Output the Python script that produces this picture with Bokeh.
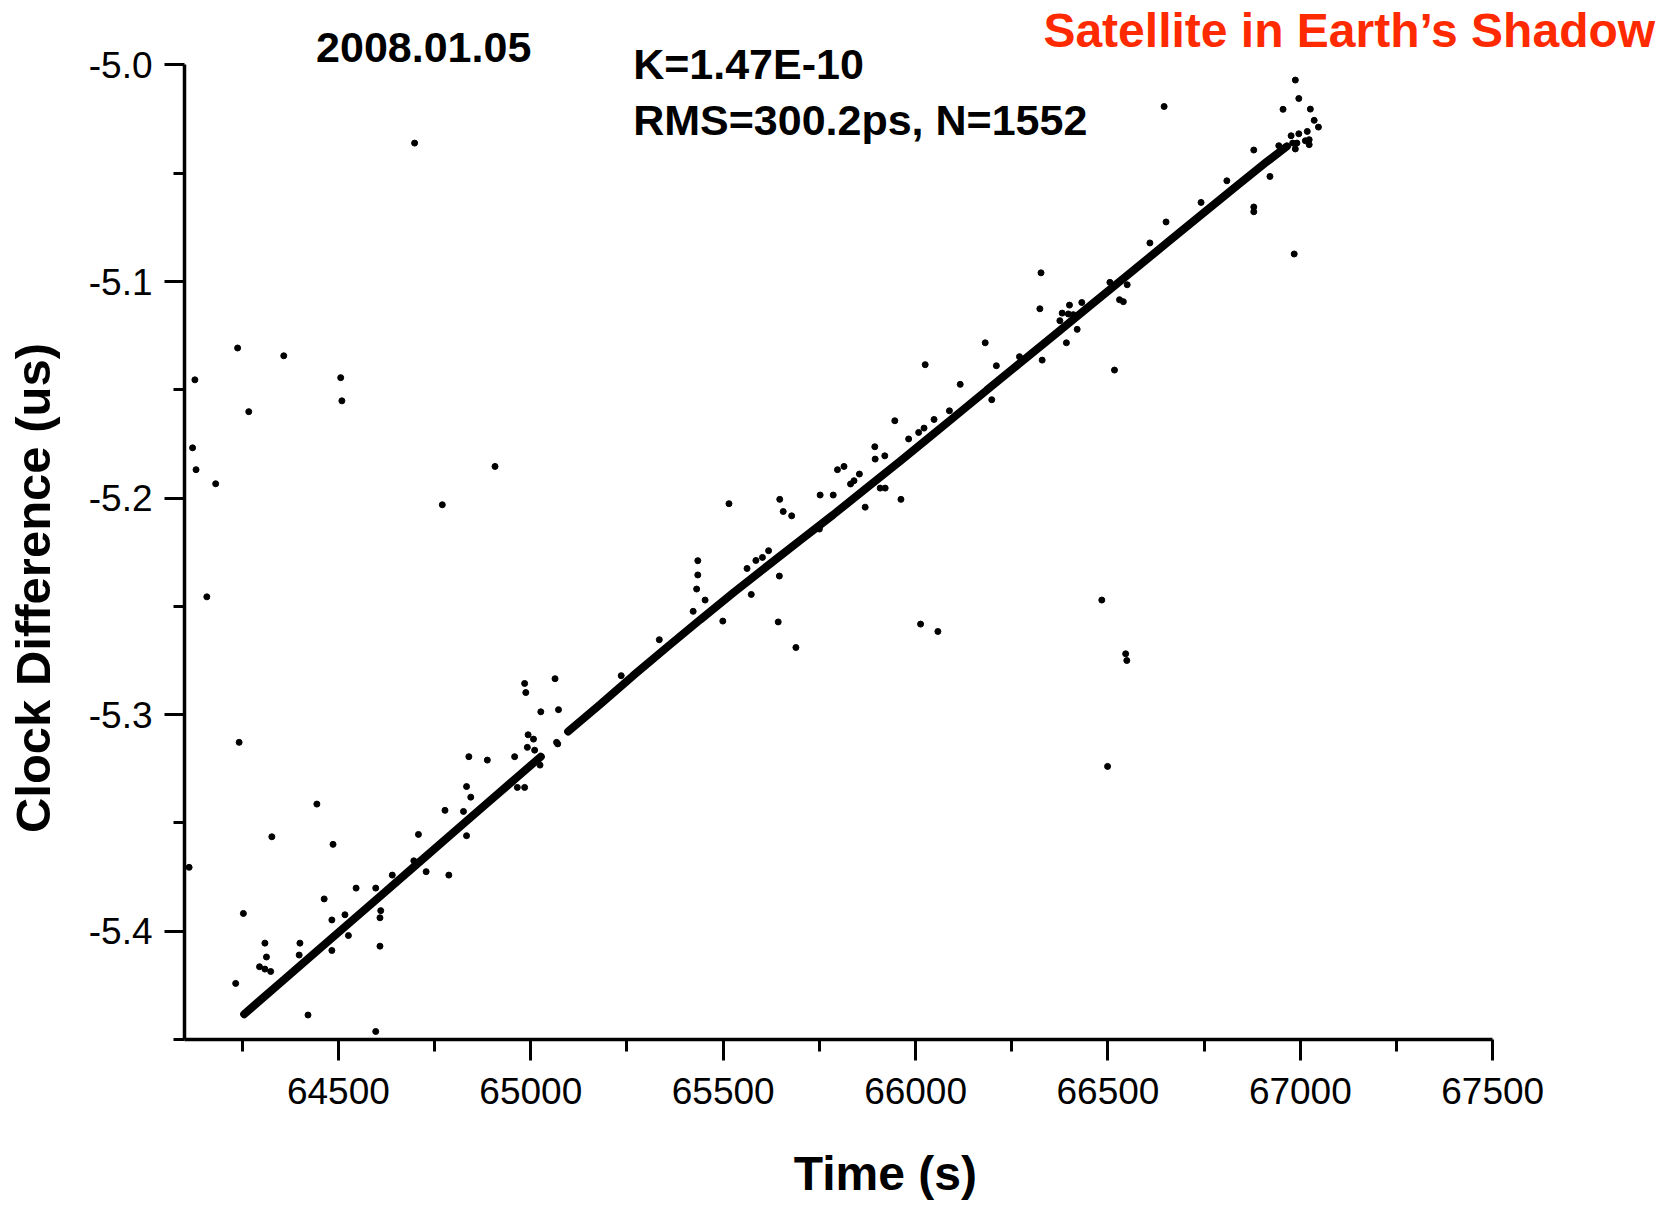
from bokeh.plotting import figure
from bokeh.models import Label, FixedTicker, PrintfTickFormatter, Range1d
from bokeh.embed import file_html
from bokeh.resources import INLINE

# ---------------- data ----------------
# dense main track (many overlapping points), two segments with a short gap
track1_time = [64255, 64359, 64445, 64532, 64619, 64705, 64792, 64878, 64965, 65026]
track1_diff = [-5.4383, -5.4223, -5.4090, -5.3956, -5.3822, -5.3689, -5.3555, -5.3422,
               -5.3288, -5.3194]
track2_time = [65097, 65180, 65266, 65353, 65440, 65526, 65613, 65700, 65786, 65873,
               65960, 66038, 66098, 66185, 66271, 66358, 66445, 66531, 66566, 66653,
               66739, 66826, 66913, 66965]
track2_diff = [-5.3078, -5.2953, -5.2820, -5.2690, -5.2562, -5.2438, -5.2316, -5.2195,
               -5.2077, -5.1953, -5.1829, -5.1716, -5.1629, -5.1502, -5.1377, -5.1251,
               -5.1124, -5.0999, -5.0949, -5.0822, -5.0697, -5.0571, -5.0447, -5.0376]

# scattered individual points
pts_time = [
    64112, 64121, 64127, 64130, 64158, 64181, 64238, 64242, 64253, 64233,
    64267, 64327, 64358, 64309, 64313, 64295, 64309, 64324, 64444, 64486,
    64463, 64400, 64398, 64421, 64483, 64483, 64506, 64509, 64517, 64526,
    64546, 64597, 64610, 64608, 64608, 64597, 64640, 64698, 64708, 64696,
    64728, 64770, 64787, 64777, 64825, 64833, 64844, 64833, 64839, 64887,
    64907, 64958, 64965, 64984, 64984, 64987, 64993, 65007, 64991, 65010,
    65024, 65026, 65063, 65072, 65067, 65070,
    65235, 65334, 65434, 65434, 65431, 65453, 65422, 65499, 65515, 65562,
    65585, 65602, 65618, 65573, 65646, 65643, 65689, 65647, 65656, 65678,
    65750, 65752, 65786, 65797, 65814, 65854, 65831, 65840, 65894, 65895,
    65920, 65869, 65908, 65921, 65962, 66013, 66058,
    65946, 65982, 66008, 66022, 66048, 66088, 66025, 66116, 66181, 66210,
    66198, 66270, 66326, 66323, 66329, 66375, 66381, 66400, 66397, 66410,
    66432, 66392, 66420, 66505, 66530, 66540, 66550, 66517, 66484, 66546,
    66549, 66499,
    66646, 66651, 66609, 66742, 66809, 66879, 66921, 66944, 66879, 66879,
    66984, 66987, 66996, 66955, 67026, 67036, 67047, 66976, 66996, 67018,
    66980, 66991, 66987, 67013, 67023, 67023,
]
pts_diff = [
    -5.3705, -5.1768, -5.1454, -5.1869, -5.2456, -5.1934, -5.1307, -5.3128, -5.3918, -5.4241,
    -5.1601, -5.3564, -5.1343, -5.4055, -5.4119, -5.4164, -5.4175, -5.4186, -5.3413, -5.3599,
    -5.3851, -5.4055, -5.4110, -5.4387, -5.3948, -5.4089, -5.1444, -5.1551, -5.3924, -5.4020,
    -5.3801, -5.3801, -5.3905, -5.3938, -5.4069, -5.4463, -5.3741, -5.0361, -5.3553, -5.3675,
    -5.3725, -5.2031, -5.3741, -5.3442, -5.3447, -5.3332, -5.3381, -5.3559, -5.3194, -5.3210,
    -5.1854, -5.3194, -5.3336, -5.3336, -5.2856, -5.2898, -5.3093, -5.3113, -5.3151, -5.3164,
    -5.3233, -5.2987, -5.2834, -5.2977, -5.3128, -5.3135,
    -5.2820, -5.2654, -5.2289, -5.2355, -5.2420, -5.2471, -5.2523, -5.2568, -5.2026, -5.2325,
    -5.2288, -5.2274, -5.2243, -5.2445, -5.2360, -5.2572, -5.2690, -5.2006, -5.2062, -5.2082,
    -5.2143, -5.1986, -5.1986, -5.1869, -5.1854, -5.1889, -5.1935, -5.1920, -5.1763, -5.1820,
    -5.1805, -5.2042, -5.1954, -5.1954, -5.2006, -5.2582, -5.2616,
    -5.1643, -5.1727, -5.1697, -5.1677, -5.1637, -5.1597, -5.1384, -5.1475, -5.1283, -5.1389,
    -5.1546, -5.1347, -5.0960, -5.1126, -5.1363, -5.1181, -5.1146, -5.1109, -5.1150, -5.1153,
    -5.1097, -5.1283, -5.1221, -5.1004, -5.1084, -5.1093, -5.1015, -5.1409, -5.2471, -5.2719,
    -5.2750, -5.3239,
    -5.0192, -5.0725, -5.0822, -5.0635, -5.0535, -5.0393, -5.0515, -5.0373, -5.0656, -5.0678,
    -5.0873, -5.0070, -5.0155, -5.0205, -5.0204, -5.0256, -5.0287, -5.0327, -5.0318, -5.0307,
    -5.0361, -5.0361, -5.0388, -5.0350, -5.0345, -5.0368,
]

x_ticks = [64500, 65000, 65500, 66000, 66500, 67000, 67500]
x_minor = [64250, 64750, 65250, 65750, 66250, 66750, 67250]
y_ticks = [-5.4, -5.3, -5.2, -5.1, -5.0]
y_minor = [-5.45, -5.35, -5.25, -5.15, -5.05]

FONT = "Liberation Sans"
NBSP = "\u00a0"

# the frame reaches the top and right edges so the annotations are not clipped;
# the axes themselves are bounded to the plotted box
p = figure(width=1679, height=1206,
           x_range=Range1d(64100, 67985.4), y_range=Range1d(-5.45, -4.97025),
           output_backend="svg", toolbar_location=None, title=None,
           min_border_left=184, min_border_right=0,
           min_border_top=0, min_border_bottom=167)
p.background_fill_color = "white"
p.border_fill_color = "white"
p.outline_line_color = None
p.xgrid.visible = False
p.ygrid.visible = False

# data
p.line(track1_time, track1_diff, line_width=8, color="black", line_cap="round")
p.line(track2_time, track2_diff, line_width=8, color="black", line_cap="round")
p.scatter(pts_time, pts_diff, size=6, color="black")

# axes
for ax in (p.xaxis[0], p.yaxis[0]):
    ax.axis_line_color = "black"
    ax.axis_line_width = 3.5
    ax.major_tick_line_color = "black"
    ax.minor_tick_line_color = "black"
    ax.major_tick_line_width = 3
    ax.minor_tick_line_width = 3
    ax.major_tick_in = 0
    ax.minor_tick_in = 0
    ax.major_label_text_font = FONT
    ax.major_label_text_font_size = "37px"
    ax.major_label_text_color = "black"
    ax.axis_label_text_font = FONT
    ax.axis_label_text_font_style = "bold"
    ax.axis_label_text_color = "black"

xa = p.xaxis[0]
xa.bounds = (64100, 67500)
xa.ticker = FixedTicker(ticks=x_ticks, minor_ticks=x_minor)
xa.major_tick_out = 21
xa.minor_tick_out = 12
xa.major_label_standoff = 17
# trailing no-break spaces shift the centred title to its place in the original
xa.axis_label = "Time (s)" + NBSP * 7
xa.axis_label_text_font_size = "48px"
xa.axis_label_standoff = 40

ya = p.yaxis[0]
ya.bounds = (-5.45, -5.0)
ya.ticker = FixedTicker(ticks=y_ticks, minor_ticks=y_minor)
ya.formatter = PrintfTickFormatter(format="%.1f")
ya.major_tick_out = 20
ya.minor_tick_out = 11
ya.major_label_standoff = 12
ya.axis_label = "Clock Difference  (us)" + NBSP * 9
ya.axis_label_text_font_size = "49px"
ya.axis_label_standoff = 26

# annotations
p.add_layout(Label(x=64442, y=-4.99177, text="2008.01.05", text_font=FONT,
                   text_font_style="bold", text_font_size="43px", text_color="black",
                   text_align="left", text_baseline="alphabetic"))
p.add_layout(Label(x=65266, y=-4.99935, text="K=1.47E-10", text_font=FONT,
                   text_font_style="bold", text_font_size="43px", text_color="black",
                   text_align="left", text_baseline="alphabetic"))
p.add_layout(Label(x=65266, y=-5.02557, text="RMS=300.2ps, N=1552", text_font=FONT,
                   text_font_style="bold", text_font_size="43px", text_color="black",
                   text_align="left", text_baseline="alphabetic"))
p.add_layout(Label(x=67922, y=-4.98410, text="Satellite in Earth\u2019s Shadow", text_font=FONT,
                   text_font_style="bold", text_font_size="48px", text_color="#FF2A00",
                   text_align="right", text_baseline="alphabetic"))

open("out.html", "w").write(file_html(p, INLINE))
